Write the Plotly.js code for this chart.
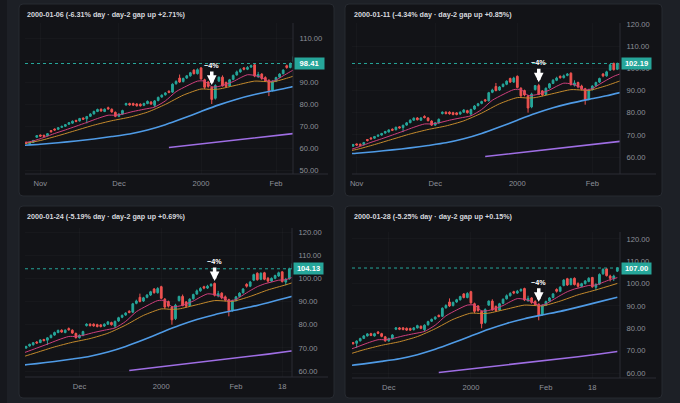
<!DOCTYPE html>
<html><head><meta charset="utf-8">
<script src="https://cdn.plot.ly/plotly-3.0.1.min.js"></script>
<style>html,body{margin:0;padding:0;background:#1d2026;}#chart{width:680px;height:403px;}</style>
</head><body><div id="chart"></div>
<script>
// ---------- DATA ----------
const dates = [
 '1999-10-25','1999-10-26','1999-10-27','1999-10-28','1999-10-29',
 '1999-11-01','1999-11-02','1999-11-03','1999-11-04','1999-11-05',
 '1999-11-08','1999-11-09','1999-11-10','1999-11-11','1999-11-12',
 '1999-11-15','1999-11-16','1999-11-17','1999-11-18','1999-11-19',
 '1999-11-22','1999-11-23','1999-11-24','1999-11-25','1999-11-26',
 '1999-11-29','1999-11-30','1999-12-01','1999-12-02','1999-12-03',
 '1999-12-06','1999-12-07','1999-12-08','1999-12-09','1999-12-10',
 '1999-12-13','1999-12-14','1999-12-15','1999-12-16','1999-12-17',
 '1999-12-20','1999-12-21','1999-12-22','1999-12-23','1999-12-24',
 '1999-12-27','1999-12-28','1999-12-29','1999-12-30','1999-12-31',
 '2000-01-03','2000-01-04','2000-01-05','2000-01-06','2000-01-07',
 '2000-01-10','2000-01-11','2000-01-12','2000-01-13','2000-01-14',
 '2000-01-17','2000-01-18','2000-01-19','2000-01-20','2000-01-21',
 '2000-01-24','2000-01-25','2000-01-26','2000-01-27','2000-01-28',
 '2000-01-31','2000-02-01','2000-02-02','2000-02-03','2000-02-04',
 '2000-02-07','2000-02-08','2000-02-09','2000-02-10','2000-02-11',
 '2000-02-14','2000-02-15','2000-02-16','2000-02-17','2000-02-18',
 '2000-02-21','2000-02-22','2000-02-23','2000-02-24','2000-02-25',
 '2000-02-28','2000-02-29'];
const opens = [61.6,62.6,61.9,62.5,64.9, 65.9,65.8,65.6,67.9,68.6, 68.5,69.4,69.9,70.8,71.3,
 72.5,72.3,73.6,73.3,74.4, 75.5,76.6,77.6,76.6,78.3, 77.6,76.2,74.4,75.4,79.6,
 80.2,80.2,80.0,79.9,79.4, 80.2,80.9,79.4,81.6,83.2, 84.2,85.8,85.4,89.2,91.8,
 90.2,91.8,92.8,95.4,93.8, 96.4,91.0,90.0,87.6,82.6, 90.4,92.2,89.8,88.2,91.2,
 93.2,94.6,96.4,95.8,96.8, 97.8,92.4,93.6,92.0,90.8, 86.2,90.4,92.2,93.8,97.4,
 96.6,99.2,102.2,99.6,102.4, 100.0,98.8,100.0,101.0,102.8, 98.4,99.8,104.4,106.6,103.4,
 102.2,105.6];
const highs = [62.3,62.9,62.9,63.7,65.9, 66.1,66.0,66.8,68.1,68.9, 69.5,70.2,70.9,71.8,72.5,
 72.9,73.7,73.9,74.6,75.8, 77.0,77.9,78.0,78.0,78.8, 78.0,76.6,75.8,77.4,80.6,
 80.6,80.6,80.4,80.3,80.6, 81.6,81.3,81.8,83.4,84.4, 85.4,86.2,89.4,90.8,93.4,
 92.0,93.2,94.6,95.8,96.2, 96.8,91.5,90.4,88.0,89.0, 92.5,93.0,90.2,91.4,93.4,
 95.2,96.2,96.8,97.2,97.9, 98.2,94.6,94.0,92.6,91.2, 90.8,92.4,94.0,95.8,97.9,
 98.9,102.0,102.6,102.6,102.8, 100.6,100.4,101.6,102.9,103.0, 100.2,104.6,106.9,107.0,104.0,
 104.0,107.4];
const lows = [61.3,61.7,61.6,62.3,64.6, 65.0,65.0,65.3,67.0,67.8, 68.2,69.1,69.6,70.5,71.0,
 71.7,72.0,72.8,71.2,74.1, 75.2,76.3,76.5,76.3,77.4, 76.0,74.0,74.0,75.0,79.2,
 79.2,79.1,78.8,78.8,79.0, 79.9,79.6,78.6,81.2,82.8, 83.8,84.9,85.0,88.8,89.6,
 89.8,91.4,92.4,93.4,93.4, 91.0,86.8,87.4,80.0,82.0, 90.0,88.0,87.4,87.8,90.8,
 92.9,94.2,95.3,95.4,96.4, 92.2,91.8,91.0,90.0,83.6, 85.6,90.0,91.8,93.4,96.0,
 96.2,98.8,99.0,99.2,99.2, 98.2,98.4,99.6,100.6,98.2, 97.0,99.4,104.0,103.2,101.0,
 101.2,105.2];
const closes = [62.0,62.1,62.6,63.4,65.6, 65.4,65.3,66.5,67.4,68.2, 69.2,69.8,70.6,71.5,72.2,
 72.1,73.4,73.1,74.3,75.4, 76.6,77.5,76.8,77.6,77.8, 76.4,74.4,75.4,77.0,80.2,
 79.6,79.5,79.2,79.2,80.2, 81.2,80.0,81.4,83.0,84.0, 85.0,85.3,89.0,90.2,90.0,
 91.6,92.8,94.2,93.8,95.6, 91.4,87.6,88.0,82.1,88.4, 92.2,88.2,88.0,91.0,93.0,
 94.6,95.6,95.8,96.6,97.4, 92.7,93.4,91.6,90.6,86.0, 90.2,92.0,93.6,95.4,96.6,
 98.41,101.6,99.4,102.19,99.6, 98.8,100.0,101.2,102.4,98.6, 99.6,104.13,106.4,103.6,102.4,
 103.4,107.00];

// moving averages, read at sampled bars (index into dates)
const pinkIdx  = [0,3,6,9,12,15,18,21,24,26,28,31,34,37,40,43,46,49,51,53,55,57,59,61,63,65,67,69,71,73,75,77,79,81,83,85,87,89,91];
const pinkVals = [62.2,63.2,64.8,66.6,68.2,69.9,71.6,73.4,74.9,74.9,75.4,76.6,77.6,78.6,81.4,85.6,88.2,90.4,90.4,87.8,88.0,89.0,90.2,91.9,93.3,93.0,92.0,90.2,90.9,92.8,94.7,96.4,97.6,98.4,99.2,99.4,100.6,101.8,102.7];
const orangeIdx  = [0,5,10,15,20,25,30,35,40,45,50,53,55,60,65,68,70,75,80,85,91];
const orangeVals = [61.9,63.4,65.6,68.0,70.4,72.4,74.0,76.3,79.8,84.0,86.8,86.6,86.8,88.6,90.4,90.2,90.0,92.2,95.0,97.2,100.1];
const blueIdx  = [0,5,10,15,20,25,30,35,40,45,50,55,60,65,70,75,80,85,91];
const blueVals = [61.2,61.7,62.4,63.2,64.1,65.2,66.4,68.2,70.6,73.5,76.6,79.6,82.2,84.3,86.0,87.6,89.5,91.5,93.9];
const purpleIdx  = [41,45,50,55,60,65,70,75,80,86,91];
const purpleVals = [60.2,60.9,61.8,62.7,63.7,64.6,65.5,66.4,67.3,68.5,69.6];

// panels
const panelTitles = [
 '2000-01-06 (-6.31% day · day-2 gap up +2.71%)',
 '2000-01-11 (-4.34% day · day-2 gap up +0.85%)',
 '2000-01-24 (-5.19% day · day-2 gap up +0.69%)',
 '2000-01-28 (-5.25% day · day-2 gap up +0.15%)'];
const panelEvents = ['2000-01-06','2000-01-11','2000-01-24','2000-01-28'];
const panelStart = ['1999-10-26','1999-10-29','1999-11-10','1999-11-17'];
const panelEnd   = ['2000-02-07','2000-02-10','2000-02-22','2000-02-29'];
const panelXTickDates = [
 ['1999-11-01','1999-12-01','2000-01-03','2000-02-01'],
 ['1999-11-01','1999-12-01','2000-01-03','2000-02-01'],
 ['1999-12-01','2000-01-03','2000-02-01','2000-02-18'],
 ['1999-12-01','2000-01-03','2000-02-01','2000-02-18']];
const panelXTickText = [
 ['Nov','Dec','2000','Feb'],['Nov','Dec','2000','Feb'],
 ['Dec','2000','Feb','18'],['Dec','2000','Feb','18']];
const panelYTicks = [
 [50,60,70,80,90,100,110],
 [60,70,80,90,100,110,120],
 [60,70,80,90,100,110,120],
 [60,70,80,90,100,110,120]];
const eventLabel = '−4%';

// ---------- LAYOUT GEOMETRY (pixels) ----------
const W = 680, H = 403;
const geo = [
 {box:[19,4,334,196],  plot:[25,23,293,174],  xEnd:328, title:[25,14.5],   yRange:[48.18,116.82]},
 {box:[345,4,662,196], plot:[352,23,620,174], xEnd:656, title:[351.5,14.5], yRange:[52.33,120.45]},
 {box:[19,206,334,398],plot:[25,228,292,377], xEnd:328, title:[25,216.5],  yRange:[57.41,121.73]},
 {box:[345,206,662,398],plot:[352,232,620,378],xEnd:656, title:[351.5,216.5],yRange:[57.76,123.13]}];
const C = {bg:'#1d2026', panel:'#121317', border:'#272a31', axis:'#2a2d35', grid:'rgba(255,255,255,0.025)',
 tick:'#8e919a', title:'#d6d8de', up:'#26a69a', down:'#ef5350',
 pink:'#cf3f7c', orange:'#c48a2c', blue:'#4f9be6', purple:'#9f6ee4'};
const FONT = 'Liberation Sans, Arial, sans-serif';

const PX = v => v / W, PY = v => 1 - v / H;
function rr(x0,y0,x1,y1,r){
  const p=(x,y)=>PX(x)+','+PY(y);
  return 'M'+p(x0+r,y0)+' L'+p(x1-r,y0)+' Q'+p(x1,y0)+' '+p(x1,y0+r)+' L'+p(x1,y1-r)+
   ' Q'+p(x1,y1)+' '+p(x1-r,y1)+' L'+p(x0+r,y1)+' Q'+p(x0,y1)+' '+p(x0,y1-r)+
   ' L'+p(x0,y0+r)+' Q'+p(x0,y0)+' '+p(x0+r,y0)+' Z';
}

const traces = [], shapes = [], annotations = [];
const layout = {width:W, height:H, margin:{l:0,r:0,t:0,b:0}, paper_bgcolor:C.bg,
  plot_bgcolor:'rgba(0,0,0,0)', showlegend:false, dragmode:false, font:{family:FONT}};

shapes.push({type:'rect', xref:'paper', yref:'paper', x0:0, x1:PX(7), y0:0, y1:1,
  fillcolor:'#16181d', line:{width:0}, layer:'below'});

geo.forEach((g,k) => {
  const s = k === 0 ? '' : String(k+1);
  const xa = 'x'+s, ya = 'y'+s;
  const i0 = dates.indexOf(panelStart[k]), i1 = dates.indexOf(panelEnd[k]);
  const lines = [[purpleIdx,purpleVals,C.purple,1.6,'linear'],[blueIdx,blueVals,C.blue,1.6,'spline'],
                 [orangeIdx,orangeVals,C.orange,1,'spline'],[pinkIdx,pinkVals,C.pink,1,'spline']];
  lines.forEach(([ix,vals,col,w,shape]) => traces.push({type:'scatter', mode:'lines', xaxis:xa, yaxis:ya,
    x: ix.map(i=>dates[i]), y: vals, line:{color:col, width:w, shape:shape, smoothing:0.6}, hoverinfo:'skip'}));
  traces.push({type:'candlestick', xaxis:xa, yaxis:ya, x:dates, open:opens, high:highs, low:lows, close:closes,
    increasing:{line:{color:C.up,width:1}, fillcolor:C.up},
    decreasing:{line:{color:C.down,width:1}, fillcolor:C.down},
    whiskerwidth:0, hoverinfo:'skip'});

  layout['xaxis'+s] = {domain:[PX(g.plot[0]), PX(g.plot[2])], anchor:ya, type:'category',
    categoryorder:'array', categoryarray:dates, range:[i0-0.3, i1+0.75],
    tickvals:panelXTickDates[k], ticktext:panelXTickText[k], ticks:'outside', ticklen:2, tickcolor:'rgba(0,0,0,0)',
    tickfont:{size:7.6, color:C.tick, family:FONT}, showgrid:true, gridcolor:C.grid, zeroline:false,
    showline:false, rangeslider:{visible:false}, fixedrange:true};
  layout['yaxis'+s] = {domain:[PY(g.plot[3]), PY(g.plot[1])], anchor:xa, side:'right', range:g.yRange,
    tickvals:panelYTicks[k], ticktext:panelYTicks[k].map(v=>v.toFixed(2)), ticks:'outside', ticklen:4,
    tickcolor:'rgba(0,0,0,0)', tickfont:{size:7.6, color:C.tick, family:FONT}, showgrid:true, gridcolor:C.grid,
    zeroline:false, showline:false, fixedrange:true};

  // panel card
  shapes.push({type:'path', xref:'paper', yref:'paper', path:rr(g.box[0],g.box[1],g.box[2],g.box[3],4),
    fillcolor:C.panel, line:{color:C.border, width:1}, layer:'below'});
  // axis lines
  shapes.push({type:'line', xref:'paper', yref:'paper', x0:PX(g.plot[0]), x1:PX(g.xEnd), y0:PY(g.plot[3]), y1:PY(g.plot[3]),
    line:{color:C.axis, width:1}});
  shapes.push({type:'line', xref:'paper', yref:'paper', x0:PX(g.plot[2]), x1:PX(g.plot[2]), y0:PY(g.plot[3]), y1:PY(g.plot[1]),
    line:{color:C.axis, width:1}});
  // last price dotted line
  const last = closes[i1];
  shapes.push({type:'line', xref:xa+' domain', yref:ya, x0:0, x1:1, y0:last, y1:last,
    line:{color:C.up, width:1, dash:'dot'}});
  // title
  annotations.push({xref:'paper', yref:'paper', x:PX(g.title[0]), y:PY(g.title[1]), xanchor:'left', yanchor:'middle',
    text:panelTitles[k], showarrow:false, font:{size:7.2, color:C.title, family:FONT, weight:'bold'}});
  // price label
  annotations.push({xref:xa+' domain', yref:ya, x:1, y:last, xanchor:'left', yanchor:'middle', xshift:0.5,
    text:last.toFixed(2), showarrow:false, bgcolor:C.up, borderpad:1, width:27, height:9, align:'center',
    font:{size:7.6, color:'#ffffff', family:FONT, weight:'bold'}});
  // event arrow
  const ei = dates.indexOf(panelEvents[k]);
  annotations.push({xref:xa, yref:ya, x:panelEvents[k], y:highs[ei], text:eventLabel, showarrow:true,
    arrowhead:2, arrowsize:0.55, arrowwidth:3.5, arrowcolor:'#ffffff', ax:0, ay:-21, standoff:1.5,
    font:{size:7.2, color:'#ffffff', family:FONT, weight:'bold'}});
});
layout.shapes = shapes;
layout.annotations = annotations;
Plotly.newPlot('chart', traces, layout, {displayModeBar:false, staticPlot:true});
</script>
</body></html>
